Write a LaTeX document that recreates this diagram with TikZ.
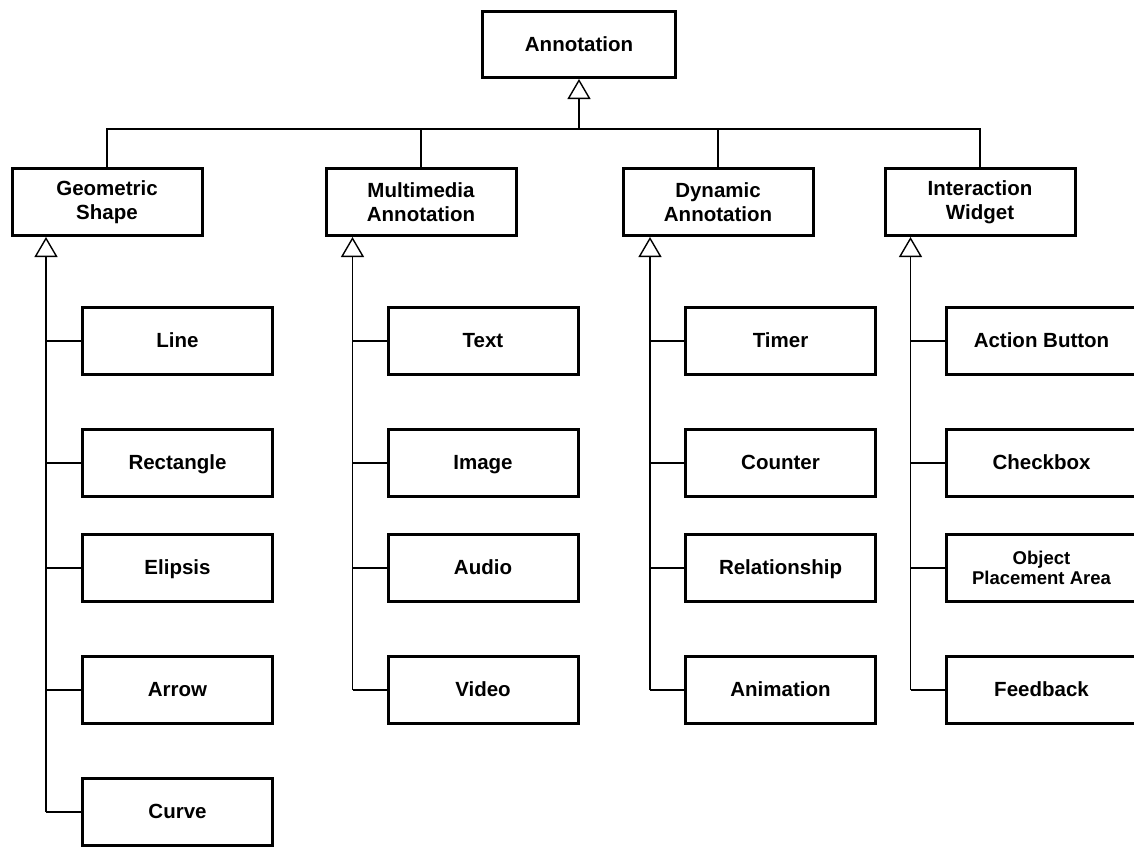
\documentclass[tikz,border=0pt]{standalone}
\usepackage{fontspec}
\setmainfont{Liberation Sans}
\usetikzlibrary{arrows.meta}

\tikzset{
  classbox/.style={draw=black, line width=3pt, fill=white, align=center,
    minimum width=190pt, minimum height=67pt, inner sep=0pt,
    font=\fontsize{20.5}{24}\selectfont\bfseries},
  leafbox/.style={classbox, text height=17pt, text depth=4pt},
  smallbox/.style={classbox, font=\fontsize{18.5}{20}\selectfont\bfseries},
  bus/.style={line width=2.8pt, line cap=rect},
  branch/.style={line width=1.4pt},
  inherit/.style={line width=1.4pt,
    -{Triangle[open, length=20pt, width=23pt, line width=1.4pt]}},
}

\begin{document}
\begin{tikzpicture}[x=1pt, y=-1pt]
\useasboundingbox (0,0) rectangle (1134,849);
\clip (0,0) rectangle (1134,849);

% root class
\node[leafbox, minimum width=193pt, minimum height=66pt] (root) at (579,44.5) {Annotation};

% second level
\node[classbox] (geo) at (107,202) {Geometric\\Shape};
\node[classbox] (mm)  at (421,202) {Multimedia\\Annotation};
\node[classbox] (dyn) at (718,202) {Dynamic\\Annotation};
\node[classbox] (iw)  at (980,202) {Interaction\\Widget};

% bus joining the second level to the root
\coordinate (busL) at (107,129);
\coordinate (busR) at (980,129);
\coordinate (busM) at (579,129);
\draw[bus] (busL) -- (busR);
\draw[bus] (busL) -- (geo.north);
\draw[bus] (mm.north |- busL) -- (mm.north);
\draw[bus] (dyn.north |- busL) -- (dyn.north);
\draw[bus] (busR) -- (iw.north);
\draw[inherit] (busM) -- (root.south);

% leaf classes
\foreach \name/\x in {g/177.5, m/483, d/780.5, w/1041.5} {
  \foreach \row/\y in {1/341, 2/463, 3/568, 4/690} {
    \coordinate (\name\row) at (\x,\y);
  }
}
\node[leafbox] (line) at (g1) {Line};
\node[leafbox] (rect) at (g2) {Rectangle};
\node[leafbox] (ell)  at (g3) {Elipsis};
\node[leafbox] (arr)  at (g4) {Arrow};
\node[leafbox] (curve) at (177.5,812) {Curve};

\node[leafbox] (text)  at (m1) {Text};
\node[leafbox] (image) at (m2) {Image};
\node[leafbox] (audio) at (m3) {Audio};
\node[leafbox] (video) at (m4) {Video};

\node[leafbox] (timer) at (d1) {Timer};
\node[leafbox] (count) at (d2) {Counter};
\node[leafbox] (rel)   at (d3) {Relationship};
\node[leafbox] (anim)  at (d4) {Animation};

\node[leafbox] (act)  at (w1) {Action Button};
\node[leafbox] (chk)  at (w2) {Checkbox};
\node[smallbox] (opa) at (w3) {Object\\Placement Area};
\node[leafbox] (fb)   at (w4) {Feedback};

% trunks with inheritance triangles
\coordinate (tg) at (46,812);
\coordinate (tm) at (352.5,690);
\coordinate (td) at (650,690);
\coordinate (tw) at (910.5,690);
\draw[inherit] (tg) -- (tg |- geo.south);
\draw[inherit] (tm) -- (tm |- mm.south);
\draw[inherit] (td) -- (td |- dyn.south);
\draw[inherit] (tw) -- (tw |- iw.south);

% branches to the leaves
\foreach \n in {line, rect, ell, arr, curve} \draw[branch] (tg |- \n.west) -- (\n.west);
\foreach \n in {text, image, audio, video} \draw[branch] (tm |- \n.west) -- (\n.west);
\foreach \n in {timer, count, rel, anim} \draw[branch] (td |- \n.west) -- (\n.west);
\foreach \n in {act, chk, opa, fb} \draw[branch] (tw |- \n.west) -- (\n.west);
\end{tikzpicture}
\end{document}
